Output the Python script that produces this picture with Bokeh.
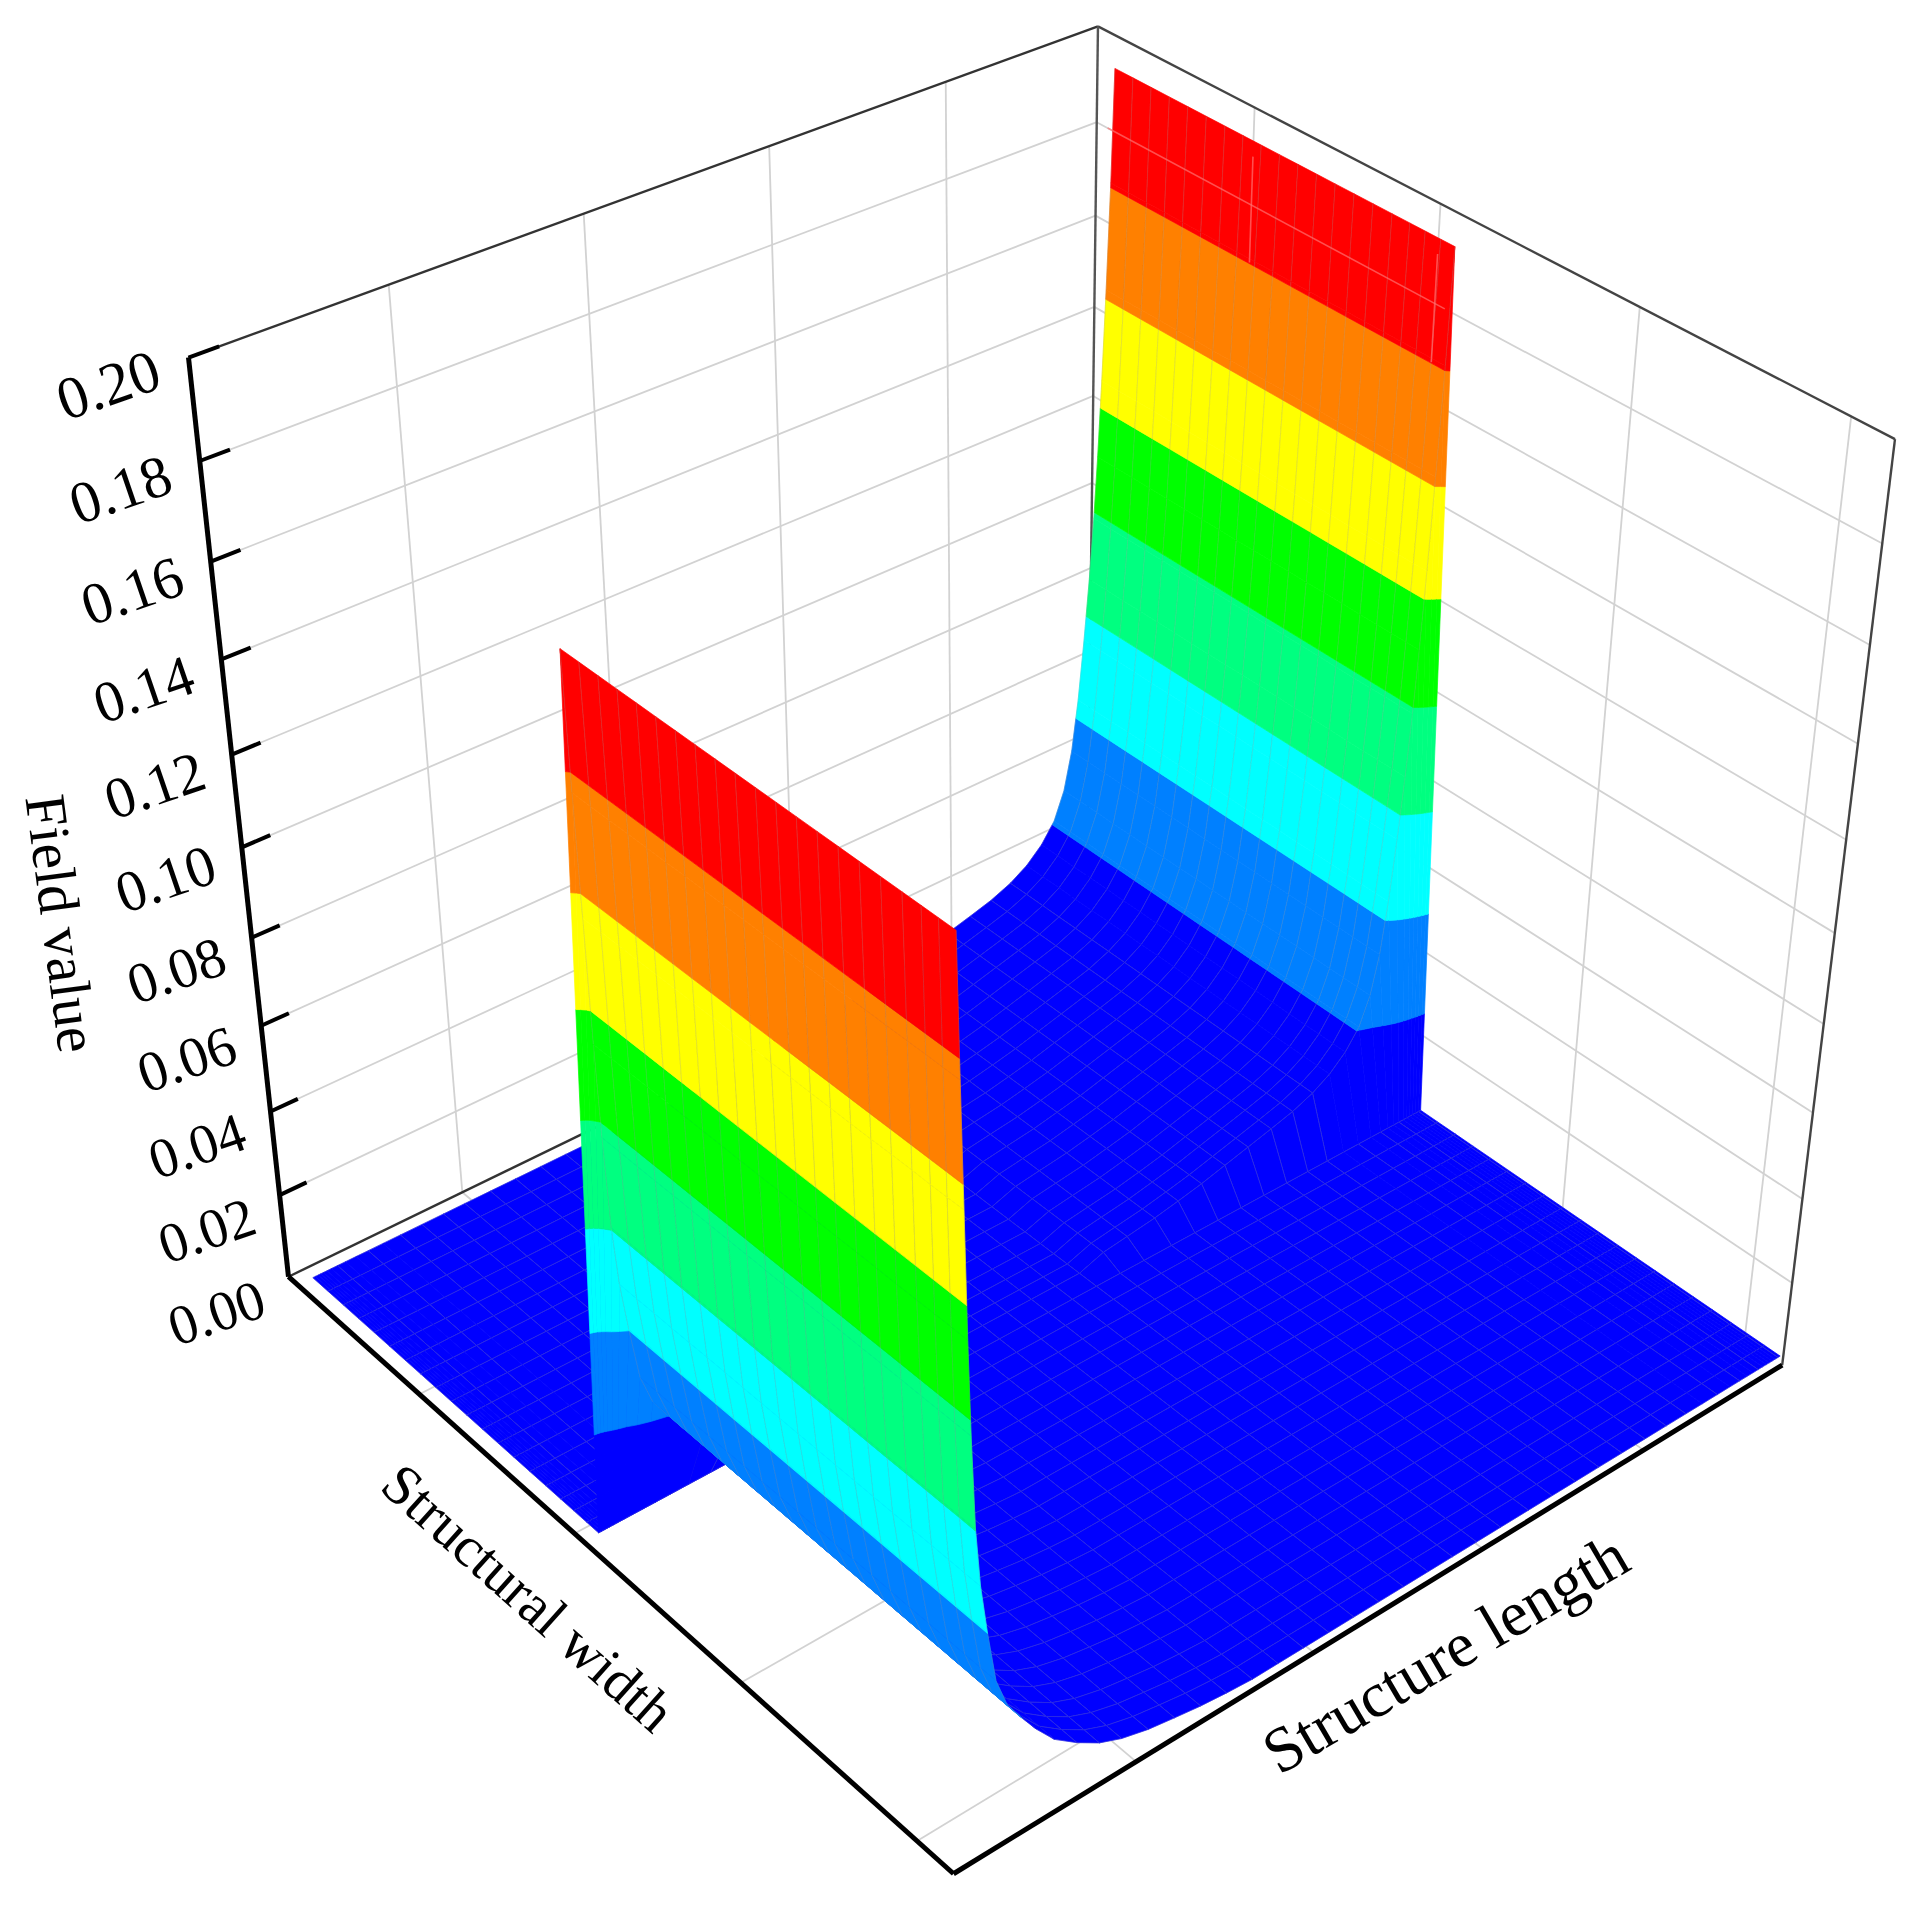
from bokeh.plotting import figure
from bokeh.models import ColumnDataSource, Range1d
from bokeh.core.properties import value
from bokeh.embed import file_html
from bokeh.resources import INLINE
import numpy as np

# field values along the length axis
length_mesh = [0.017, 0.02, 0.023, 0.026, 0.029, 0.033, 0.038, 0.045, 0.054, 0.066, 0.08, 0.097, 0.117,
               0.142, 0.167, 0.192, 0.222, 0.252, 0.282, 0.312, 0.342, 0.372, 0.402, 0.432, 0.462, 0.492,
               0.522, 0.552, 0.582, 0.612, 0.642, 0.677, 0.707, 0.737, 0.767, 0.797, 0.827, 0.855, 0.881,
               0.903, 0.923, 0.94, 0.953, 0.963, 0.971, 0.978, 0.984, 0.989, 0.993, 0.997, 1.001, 1.005, 1.008]
field_near_start = [0.1905, 0.163, 0.138, 0.112, 0.092, 0.072, 0.059, 0.048, 0.036, 0.029, 0.0245, 0.0195, 0.0145,
                    0.0105, 0.0072, 0.005, 0.0033, 0.0022, 0.0012, 0.0005]
field_near_end = [0.002, 0.0028, 0.0037, 0.0048, 0.006, 0.0075, 0.009, 0.0105, 0.012, 0.014, 0.0165, 0.02,
                  0.0245, 0.031, 0.04, 0.052, 0.066, 0.08, 0.094, 0.108, 0.125, 0.145, 0.168, 0.192]
width_mesh = [0.016, 0.042, 0.068, 0.094, 0.12, 0.146, 0.172, 0.197, 0.222, 0.247, 0.272, 0.297, 0.322, 0.347,
              0.372, 0.397, 0.42, 0.44, 0.46, 0.478, 0.503, 0.528, 0.553, 0.578, 0.603, 0.628, 0.653, 0.678,
              0.703, 0.728, 0.753, 0.778, 0.803, 0.828, 0.853, 0.878, 0.903, 0.928, 0.95, 0.97, 0.99]
wall_switch = 20  # first width index that carries the near-start wall

levels = [0.0, 0.0238, 0.0477, 0.0715, 0.0954, 0.119, 0.143, 0.167, 0.1921]
band_colors = ["#0000ff", "#0080ff", "#00ffff", "#00ff80", "#00ff00", "#ffff00", "#ff8000", "#ff0000"]

z_ticks = [0.0, 0.02, 0.04, 0.06, 0.08, 0.10, 0.12, 0.14, 0.16, 0.18, 0.20]
z_labels = ["0.00", "0.02", "0.04", "0.06", "0.08", "0.10", "0.12", "0.14", "0.16", "0.18", "0.20"]
width_ticks = [0.22, 0.465, 0.71, 0.952]
length_ticks = [0.2, 0.405, 0.61, 0.815]

# box corners on the page, used to solve the camera: (width, length, height) -> pixel
box_3d = [(0, 0, 0), (1, 0, 0), (1, 1, 0), (0, 1, 0), (0, 0, 1), (0, 1, 1), (1, 1, 1)]
box_px = [(288, 1273), (952, 1876), (1783, 1360), (1086, 893), (189, 358), (1097, 23), (1894, 441)]


def solve_camera():
    rows = []
    for (a, b, c), (u, v) in zip(box_3d, box_px):
        rows.append([a, b, c, 1, 0, 0, 0, 0, -u * a, -u * b, -u * c, -u])
        rows.append([0, 0, 0, 0, a, b, c, 1, -v * a, -v * b, -v * c, -v])
    return np.linalg.svd(np.array(rows, dtype=float))[2][-1].reshape(3, 4)


P = solve_camera()
cam = np.linalg.svd(P)[2][-1]
cam = cam[:3] / cam[3]


def project(w, l, z):
    h = P @ np.array([w, l, z / 0.2, 1.0])
    return h[0] / h[2], h[1] / h[2]


def clip(poly, lo, hi):
    # keep the part of a cell between two contour levels
    for limit, sign in ((lo, 1), (hi, -1)):
        out = []
        for i, a in enumerate(poly):
            b = poly[(i + 1) % len(poly)]
            da, db = sign * (a[2] - limit), sign * (b[2] - limit)
            if da >= 0:
                out.append(a)
            if da * db < 0:
                t = da / (da - db)
                out.append(tuple(a[k] + t * (b[k] - a[k]) for k in range(3)))
        poly = out
        if not poly:
            break
    return poly


def field(i, j):
    if i >= wall_switch:
        return field_near_start[j] if j < len(field_near_start) else 0.0
    k = j - (len(length_mesh) - len(field_near_end))
    return field_near_end[k] if k >= 0 else 0.0


# the mesh is finer than the lines the original shows, so only some rows get a line
drawn_rows = set()
last = -1.0
for j, l in enumerate(length_mesh):
    if l - last >= 0.024:
        drawn_rows.add(j)
        last = l

cells = []
for i in range(len(width_mesh) - 1):
    for j in range(len(length_mesh) - 1):
        quad = [(width_mesh[a], length_mesh[b], field(a, b))
                for a, b in ((i, j), (i + 1, j), (i + 1, j + 1), (i, j + 1))]
        c = np.mean(quad, axis=0)
        dist = np.linalg.norm(np.array([c[0], c[1], c[2] / 0.2]) - cam)
        cells.append((dist, j, quad))
cells.sort(key=lambda t: -t[0])

xs, ys, fills, fill_a, lines, line_a = [], [], [], [], [], []
for dist, j, quad in cells:
    for n, col in enumerate(band_colors):
        part = clip(quad, levels[n], levels[n + 1])
        if len(part) < 3:
            continue
        pts = [project(*q) for q in part]
        xs.append([p[0] for p in pts])
        ys.append([p[1] for p in pts])
        fills.append(col)
        fill_a.append(1.0)
        lines.append(col)
        line_a.append(1.0)
    # stripes along the length everywhere, cross lines only on the flat part
    edges = [[quad[0], quad[3]], [quad[1], quad[2]]]
    if max(q[2] for q in quad) < 0.018:
        if j in drawn_rows:
            edges.append([quad[0], quad[1]])
        if j + 1 in drawn_rows:
            edges.append([quad[3], quad[2]])
    for e in edges:
        pts = [project(*q) for q in e]
        xs.append([p[0] for p in pts])
        ys.append([p[1] for p in pts])
        fills.append("#808080")
        fill_a.append(0.0)
        lines.append("#9a9a9a")
        line_a.append(0.17)

surface = ColumnDataSource(dict(xs=xs, ys=ys, fill=fills, fa=fill_a, line=lines, la=line_a))

p = figure(width=1902, height=1896, x_range=Range1d(0, 1902), y_range=Range1d(1896, 0),
           output_backend="svg", toolbar_location=None, min_border=0)
p.xaxis.visible = False
p.yaxis.visible = False
p.grid.visible = False
p.outline_line_color = None


def seg(a, b, color, width, alpha=1.0):
    pa, pb = project(*a), project(*b)
    p.line([pa[0], pb[0]], [pa[1], pb[1]], line_color=color, line_width=width, line_alpha=alpha)


grid_col = "#d2d2d2"
for z in z_ticks[1:-1]:
    seg((0, 0, z), (0, 1, z), grid_col, 1.8)
    seg((0, 1, z), (1, 1, z), grid_col, 1.8)
for l in length_ticks:
    seg((0, l, 0), (0, l, 0.2), grid_col, 1.8)
    seg((0, l, 0), (1, l, 0), grid_col, 1.8)
for w in width_ticks:
    seg((w, 1, 0), (w, 1, 0.2), grid_col, 1.8)
    seg((w, 0, 0), (w, 1, 0), grid_col, 1.8)

seg((0, 0, 0.2), (0, 1, 0.2), "#333333", 2.4)
seg((0, 1, 0.2), (1, 1, 0.2), "#444444", 2.4)
seg((1, 1, 0.2), (1, 1, 0), "#444444", 2.4)
seg((0, 1, 0.2), (0, 1, 0), "#555555", 2.4)
seg((0, 0, 0), (0, 1, 0), "#333333", 2.4)

p.patches("xs", "ys", source=surface, fill_color="fill", fill_alpha="fa",
          line_color="line", line_alpha="la", line_width=0.7)

# the back wall grid shows faintly through the top band of the far wall
seg((0.016, 1, 0.18), (0.478, 1, 0.18), "#ff7070", 1.6, 0.7)
seg((width_ticks[0], 1, 0.168), (width_ticks[0], 1, 0.19), "#ff7070", 1.6, 0.7)
seg((width_ticks[1], 1, 0.168), (width_ticks[1], 1, 0.19), "#ff7070", 1.6, 0.7)

seg((0, 0, 0), (0, 0, 0.2), "#000000", 5)
seg((0, 0, 0), (1, 0, 0), "#000000", 5)
seg((1, 0, 0), (1, 1, 0), "#000000", 5)
for z in z_ticks[1:]:
    seg((0, 0, z), (0, 0.03, z), "#000000", 4)

anchors = [project(0, 0, z) for z in z_ticks]
label_x = [a[0] - 72 - 40 * z for a, z in zip(anchors, z_ticks)]
label_y = [a[1] + 36 - 40 * z for a, z in zip(anchors, z_ticks)]
label_size = ["%dpx" % (56 + 20 * z) for z in z_ticks]
p.text(label_x, label_y, text=z_labels, text_font=value("Liberation Serif"), text_font_size=label_size,
       text_align="center", text_baseline="middle", angle=0.33, text_color="#000000")
p.text([61], [923], text=["Field value"], text_font=value("Liberation Serif"), text_font_size="58px",
       text_align="center", text_baseline="middle", angle=-1.44, text_color="#000000")
p.text([528], [1597], text=["Structural width"], text_font=value("Liberation Serif"), text_font_size="57px",
       text_align="center", text_baseline="middle", angle=-0.73, text_color="#000000")
p.text([1445], [1653], text=["Structure length"], text_font=value("Liberation Serif"), text_font_size="64px",
       text_align="center", text_baseline="middle", angle=0.53, text_color="#000000")

open("out.html", "w").write(file_html(p, INLINE))
